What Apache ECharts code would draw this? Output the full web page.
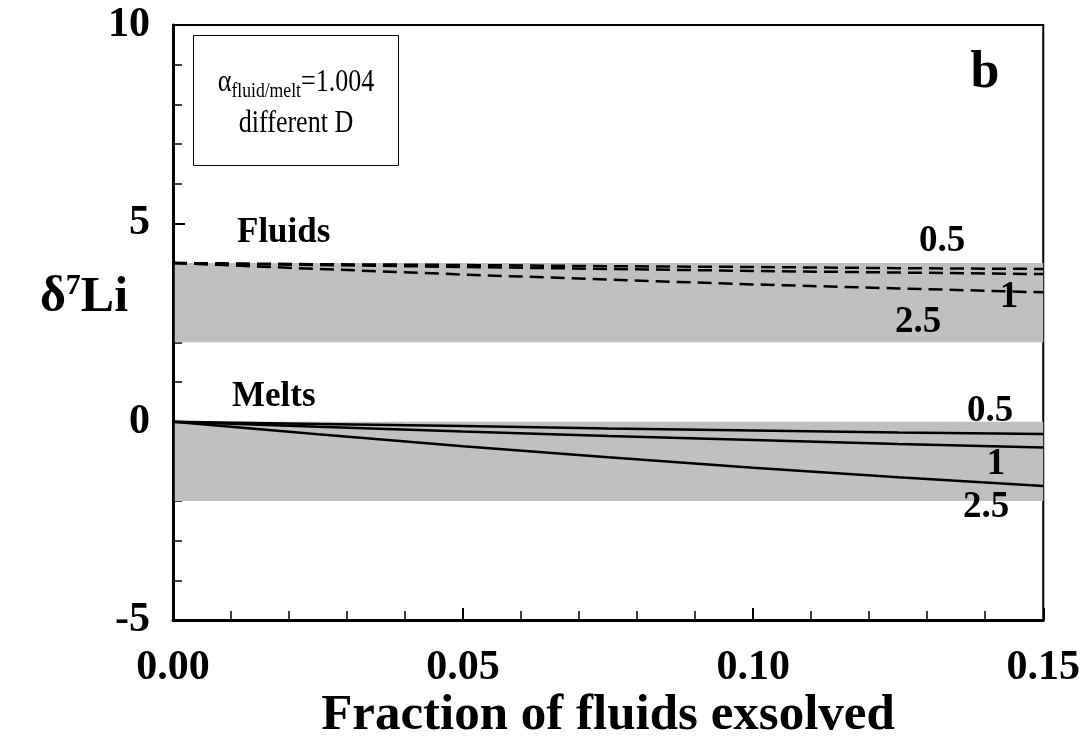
<!DOCTYPE html>
<html>
<head>
<meta charset="utf-8">
<script src="https://cdn.jsdelivr.net/npm/echarts@6/dist/echarts.min.js"></script>
<style>
html,body{margin:0;padding:0;background:#fff;}
#chart{width:1083px;height:747px;}
</style>
</head>
<body>
<div id="chart"></div>
<script>
// fraction of fluids exsolved
const fraction = [0, 0.025, 0.05, 0.075, 0.1, 0.125, 0.15]
// fluids (dashed) for D = 0.5, 1, 2.5
const fluidD05 = [4, 3.97, 3.95, 3.92, 3.9, 3.87, 3.85]
const fluidD1 = [4, 3.95, 3.9, 3.85, 3.8, 3.76, 3.72]
const fluidD25 = [4, 3.85, 3.71, 3.58, 3.46, 3.36, 3.26]
// melts (solid)
const meltD05 = [0, -0.06, -0.11, -0.17, -0.22, -0.27, -0.31]
const meltD1 = [0, -0.13, -0.25, -0.36, -0.46, -0.56, -0.65]
const meltD25 = [0, -0.32, -0.62, -0.9, -1.16, -1.4, -1.62]
// grey ranges
const fluidRange = [2, 4]
const meltRange = [-2, 0]

const serif = 'Liberation Serif'
const pairs = arr => fraction.map((x, i) => [x, arr[i]])

let myChart = echarts.init(document.getElementById('chart'))

function lineSeries(name, data, dashed, area) {
    let s = {
        name: name,
        type: 'line',
        data: pairs(data),
        showSymbol: false,
        symbol: 'none',
        smooth: false,
        z: 3,
        lineStyle: { color: '#000', width: 2.5, type: dashed ? [14, 7] : 'solid' }
    }
    if (area) {
        s.markArea = {
            silent: true,
            itemStyle: { color: '#c0c0c0', opacity: 1 },
            data: [[{ xAxis: 0.0003, yAxis: area[0] }, { xAxis: 0.15, yAxis: area[1] }]]
        }
    }
    return s
}

function label(text, x, y, size, bold, align) {
    return {
        type: 'text', x: x, y: y, z: 10,
        style: {
            text: text, fill: '#000',
            font: (bold ? 'bold ' : '') + size + 'px "' + serif + '"',
            align: align || 'center', verticalAlign: 'middle'
        }
    }
}

let option = {
    animation: false,
    backgroundColor: '#fff',
    grid: {
        left: 173, right: 38, top: 25, bottom: 127,
        show: true, borderColor: '#000', borderWidth: 2, backgroundColor: 'transparent'
    },
    xAxis: {
        type: 'value', min: 0, max: 0.15, interval: 0.05,
        axisLine: { show: true, onZero: false, lineStyle: { color: '#000', width: 3 } },
        axisTick: { inside: true, length: 12, lineStyle: { color: '#000', width: 2 } },
        minorTick: { show: true, splitNumber: 5, length: 9, lineStyle: { color: '#000', width: 1.5 } },
        splitLine: { show: false },
        axisLabel: {
            margin: 27, color: '#000', fontFamily: serif, fontWeight: 'bold', fontSize: 42,
            formatter: v => v.toFixed(2)
        }
    },
    yAxis: {
        type: 'value', min: -5, max: 10, interval: 5,
        axisLine: { show: true, onZero: false, lineStyle: { color: '#000', width: 3 } },
        axisTick: { inside: true, length: 12, lineStyle: { color: '#000', width: 2 } },
        minorTick: { show: true, splitNumber: 5, length: 9, lineStyle: { color: '#000', width: 1.5 } },
        splitLine: { show: false },
        axisLabel: { margin: 23, color: '#000', fontFamily: serif, fontWeight: 'bold', fontSize: 42 }
    },
    series: [
        lineSeries('fluid 0.5', fluidD05, true, fluidRange),
        lineSeries('fluid 1', fluidD1, true),
        lineSeries('fluid 2.5', fluidD25, true),
        lineSeries('melt 0.5', meltD05, false, meltRange),
        lineSeries('melt 1', meltD1, false),
        lineSeries('melt 2.5', meltD25, false)
    ],
    graphic: [
        {
            type: 'rect', z: 10,
            shape: { x: 193.5, y: 35.5, width: 205, height: 130 },
            style: { fill: '#fff', stroke: '#000', lineWidth: 1 }
        },
        {
            type: 'text', x: 296, y: 80, z: 11, scaleX: 0.84,
            style: {
                text: '{a|α}{b|fluid/melt}{a|=1.004}',
                align: 'center', verticalAlign: 'middle',
                rich: {
                    a: { fontFamily: serif, fontSize: 31, fill: '#000', lineHeight: 36, verticalAlign: 'bottom' },
                    b: { fontFamily: serif, fontSize: 21, fill: '#000', lineHeight: 36, verticalAlign: 'bottom', padding: [0, 0, -4, 0] }
                }
            }
        },
        {
            type: 'text', x: 296, y: 124, z: 11, scaleX: 0.84,
            style: {
                text: 'different D', fill: '#000',
                font: '31px "' + serif + '"',
                align: 'center', verticalAlign: 'middle'
            }
        },
        label('b', 985, 74, 52, true),
        label('Fluids', 237, 233, 35, true, 'left'),
        label('Melts', 232, 397, 35, true, 'left'),
        label('0.5', 942, 241, 37, true),
        label('1', 1009, 297, 37, true),
        label('2.5', 918, 322, 37, true),
        label('0.5', 990, 411, 37, true),
        label('1', 996, 464, 37, true),
        label('2.5', 986, 507, 37, true),
        {
            type: 'text', x: 84, y: 297, z: 10,
            style: {
                text: '{d|δ}{s|7}{d|Li}',
                align: 'center', verticalAlign: 'middle',
                rich: {
                    d: { fontFamily: serif, fontWeight: 'bold', fontSize: 50, fill: '#000', lineHeight: 52, verticalAlign: 'bottom' },
                    s: { fontFamily: serif, fontWeight: 'bold', fontSize: 30, fill: '#000', lineHeight: 52, verticalAlign: 'top' }
                }
            }
        },
        label('Fraction of fluids exsolved', 608, 716, 51, true)
    ]
}
myChart.setOption(option)
</script>
</body>
</html>
